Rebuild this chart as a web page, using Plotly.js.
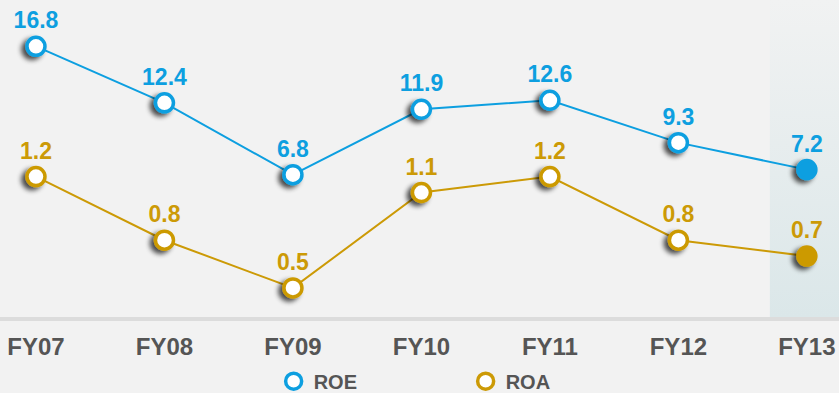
<!DOCTYPE html>
<html>
<head>
<meta charset="utf-8">
<script src="https://cdn.plot.ly/plotly-3.0.1.min.js"></script>
<style>
  html, body { margin: 0; padding: 0; background: #f2f2f2; }
  #chart { width: 839px; height: 393px; }
</style>
</head>
<body>
<svg width="0" height="0" style="position:absolute">
  <defs>
    <filter id="dotShadow" x="-100%" y="-100%" width="300%" height="300%">
      <feGaussianBlur in="SourceAlpha" stdDeviation="2.5"/>
      <feOffset dx="-4" dy="3" result="off"/>
      <feComponentTransfer><feFuncA type="linear" slope="0.7"/></feComponentTransfer>
      <feMerge><feMergeNode/><feMergeNode in="SourceGraphic"/></feMerge>
    </filter>
  </defs>
</svg>
<div id="chart"></div>
<script>
// Fiscal years and ratios (%)
const years = ["FY07", "FY08", "FY09", "FY10", "FY11", "FY12", "FY13"];
const roe = [16.8, 12.4, 6.8, 11.9, 12.6, 9.3, 7.2];
const roa = [1.2, 0.8, 0.5, 1.1, 1.2, 0.8, 0.7];

const BLUE = "#0d9fe0";
const GOLD = "#cc9a06";
const TEXT_GRAY = "#555555";
const FONT = "Liberation Sans, Arial, Helvetica, sans-serif";

// Latest year is drawn as a solid dot, earlier years as hollow rings
function fills(values, color) {
  return values.map((v, i) => (i === values.length - 1 ? color : "#ffffff"));
}

function series(name, values, color, axis) {
  return {
    type: "scatter",
    mode: "lines+markers+text",
    name: name,
    x: years,
    y: values,
    yaxis: axis,
    showlegend: false,
    line: { color: color, width: 2 },
    marker: {
      size: 18,
      color: fills(values, color),
      line: { color: color, width: 3.5 }
    },
    texttemplate: "%{y:.1f}",
    textposition: "top center",
    textfont: { family: FONT, size: 23, weight: 700, color: color },
    cliponaxis: false,
    hoverinfo: "skip"
  };
}

// Legend-only entries: hollow rings without the connecting line
function legendEntry(name, color) {
  return {
    type: "scatter",
    mode: "markers",
    name: name,
    x: [null],
    y: [null],
    marker: { size: 16, color: "#ffffff", line: { color: color, width: 3.5 } },
    hoverinfo: "skip"
  };
}

const traces = [
  series("ROE", roe, BLUE, "y"),
  series("ROA", roa, GOLD, "y2"),
  legendEntry("ROE", BLUE),
  legendEntry("ROA", GOLD)
];

// Soft vertical gradient highlighting the latest year
const highlight =
  "data:image/svg+xml;utf8," +
  encodeURIComponent(
    '<svg xmlns="http://www.w3.org/2000/svg" width="10" height="100" preserveAspectRatio="none">' +
      '<defs><linearGradient id="g" x1="0" y1="0" x2="0" y2="1">' +
      '<stop offset="0" stop-color="#f1f2f2"/><stop offset="1" stop-color="#dbe7e9"/>' +
      "</linearGradient></defs>" +
      '<rect width="10" height="100" fill="url(#g)"/></svg>'
  );

const lastIdx = years.length - 1;

const layout = {
  width: 839,
  height: 393,
  margin: { l: 0, r: 0, t: 0, b: 76 },
  paper_bgcolor: "#f2f2f2",
  plot_bgcolor: "rgba(0,0,0,0)",
  font: { family: FONT, color: TEXT_GRAY },
  xaxis: {
    type: "category",
    range: [-0.28, 6.25],
    showgrid: false,
    zeroline: false,
    showline: true,
    linecolor: "#dcdcdc",
    linewidth: 4,
    ticks: "",
    ticklabelstandoff: 5,
    tickfont: { family: FONT, size: 24, weight: 700, color: TEXT_GRAY },
    fixedrange: true
  },
  yaxis: {
    range: [-4.28, 20.41],
    visible: false,
    fixedrange: true
  },
  yaxis2: {
    range: [0.317, 2.311],
    overlaying: "y",
    visible: false,
    fixedrange: true
  },
  images: [
    {
      source: highlight,
      xref: "x",
      yref: "paper",
      x: lastIdx - 0.29,
      y: 1,
      sizex: 0.6,
      sizey: 1,
      sizing: "stretch",
      xanchor: "left",
      yanchor: "top",
      layer: "below"
    }
  ],
  legend: {
    orientation: "h",
    x: 0.555,
    xanchor: "center",
    yref: "container",
    y: 0.03,
    yanchor: "middle",
    bgcolor: "rgba(0,0,0,0)",
    font: { family: FONT, size: 20, weight: 700, color: TEXT_GRAY },
    entrywidth: 147,
    entrywidthmode: "pixels"
  },
  showlegend: true
};

Plotly.newPlot("chart", traces, layout, { displayModeBar: false, staticPlot: true }).then(() => {
  document
    .querySelectorAll("#chart .scatterlayer .trace .points path")
    .forEach((p) => p.setAttribute("filter", "url(#dotShadow)"));
});
</script>
</body>
</html>
